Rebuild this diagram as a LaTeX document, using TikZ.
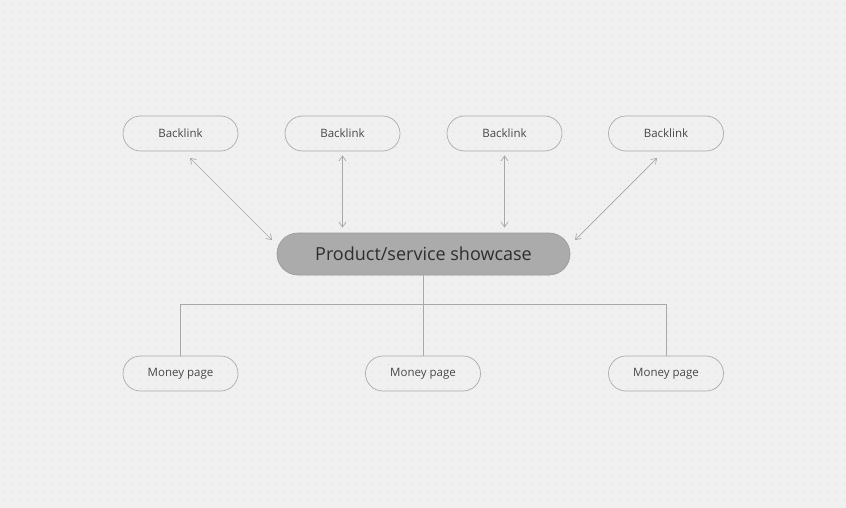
\documentclass[tikz,border=0pt]{standalone}
\usepackage{fontspec}
\setmainfont{Open Sans}
\usetikzlibrary{arrows.meta,calc}
\definecolor{bgc}{HTML}{F0F0F0}
\definecolor{dotc}{HTML}{DADADA}
\definecolor{edgec}{HTML}{ABABAB}
\definecolor{linec}{HTML}{A8A8A8}
\definecolor{mainfill}{HTML}{ABABAB}
\definecolor{txt}{HTML}{474747}
\tikzset{
  pill/.style={draw=edgec, line width=0.7pt, rounded corners=17.5pt, minimum width=115pt, minimum height=35pt, inner sep=0pt, text=txt, font=\fontsize{11.5}{13}\selectfont},
  mainpill/.style={draw=mainfill!90!black, fill=mainfill, line width=0.7pt, rounded corners=21pt, minimum width=293pt, minimum height=42pt, inner sep=0pt, text=black!82, font=\fontsize{18}{21}\selectfont},
  link/.style={draw=linec, line width=0.7pt},
  dlink/.style={link, {Straight Barb[length=5pt,width=7pt]}-{Straight Barb[length=5pt,width=7pt]}}
}
\begin{document}
\begin{tikzpicture}[x=1pt,y=-1pt]
\fill[bgc] (0,0) rectangle (846,508);
\useasboundingbox (0,0) rectangle (846,508);
\foreach \yy in {4,12,...,508} {
  \draw[dotc, line width=1pt, dash pattern=on 1pt off 7pt, dash phase=-3.5pt] (0,\yy) -- (846,\yy);
}
\node[pill] (b1) at (180.5,133.5) {Backlink};
\node[pill] (b2) at (342.5,133.5) {Backlink};
\node[pill] (b3) at (504.5,133.5) {Backlink};
\node[pill] (b4) at (666,133.5) {Backlink};
\node[mainpill] (m) at (423.5,254) {Product/service showcase};
\node[pill] (p1) at (180.5,373.5) {Money page};
\node[pill] (p2) at (423,373.5) {Money page};
\node[pill] (p3) at (666,373.5) {Money page};
% arrow endpoints
\coordinate (a1s) at (190,158);
\coordinate (a1e) at (272,240);
\coordinate (a4s) at (657,158);
\coordinate (a4e) at (575,240);
\draw[dlink] (a1s) -- (a1e);
\draw[dlink] (a4s) -- (a4e);
\draw[dlink, shorten <=4pt, shorten >=5pt] (b2.south) -- (b2.south |- m.north);
\draw[dlink, shorten <=4pt, shorten >=5pt] (b3.south) -- (b3.south |- m.north);
% tree
\coordinate (j) at (423,304);
\draw[link] (m.south -| p2.north) -- (p2.north);
\draw[link] (p1.north) -- (p1.north |- j) -- (p3.north |- j) -- (p3.north);
\end{tikzpicture}
\end{document}
